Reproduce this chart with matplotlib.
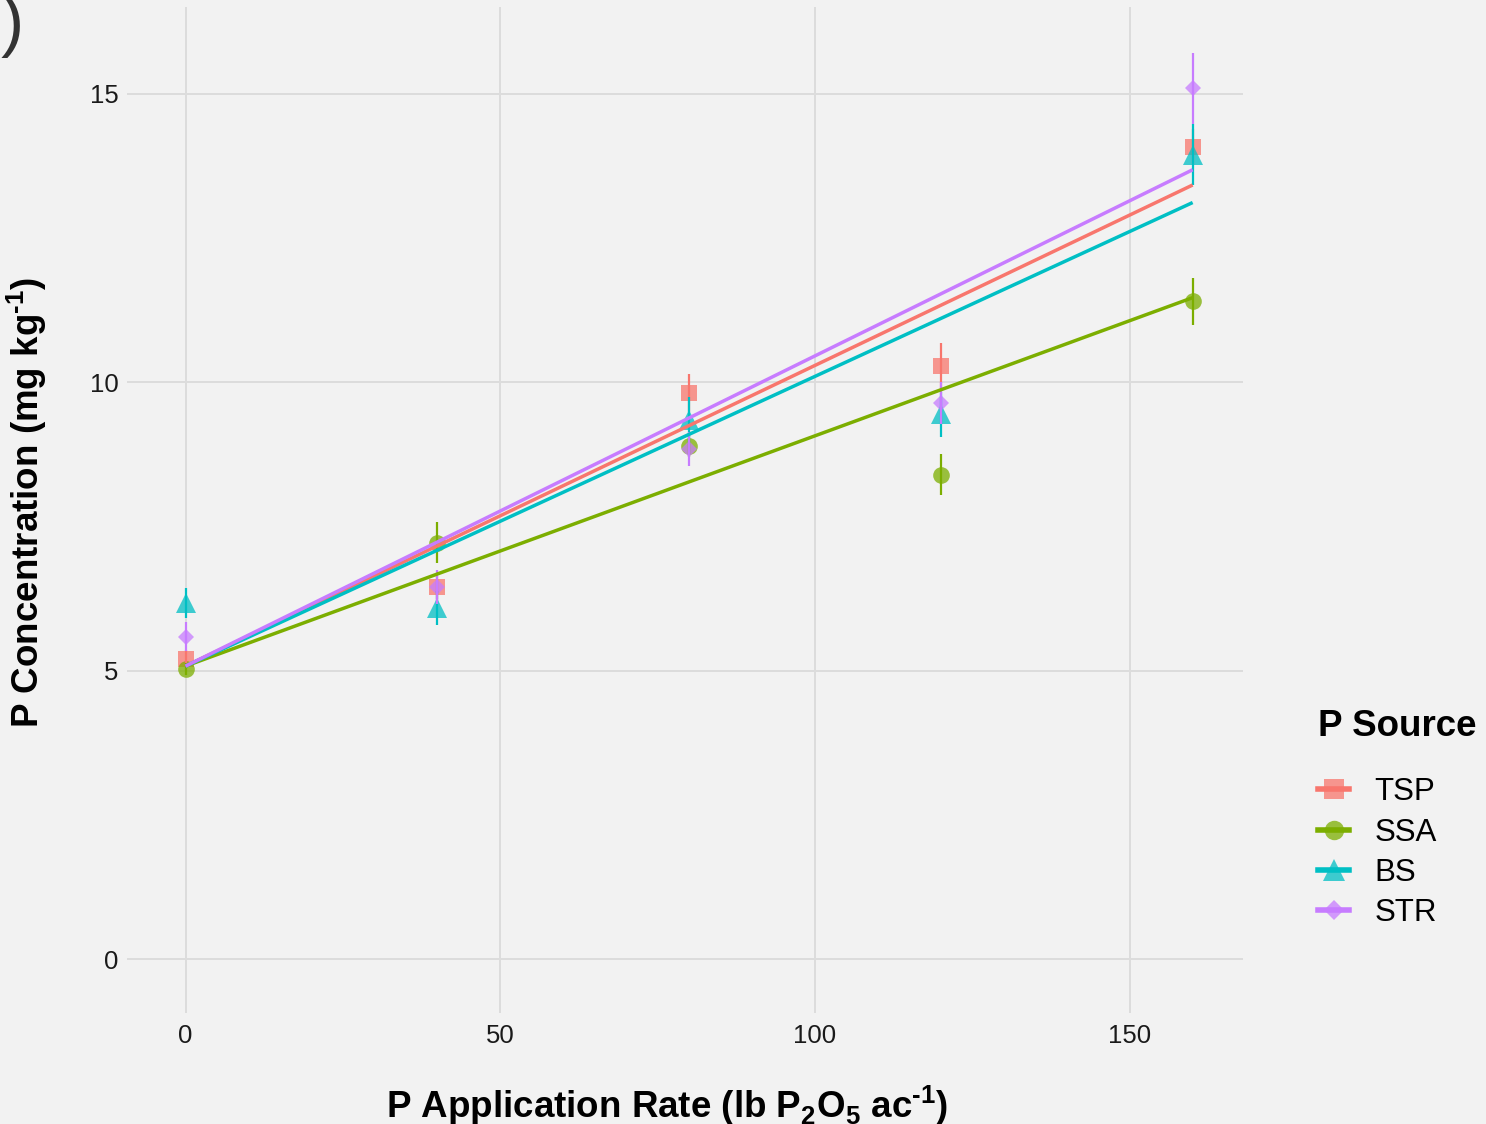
import numpy as np
import matplotlib
matplotlib.use('Agg')
from matplotlib import pyplot as plt
from matplotlib.lines import Line2D

plt.rcParams['font.family'] = ['Liberation Sans', 'DejaVu Sans']
plt.rcParams['mathtext.fontset'] = 'custom'
plt.rcParams['mathtext.bf'] = 'Liberation Sans:bold'
plt.rcParams['mathtext.rm'] = 'Liberation Sans'

# P application rate (lb P2O5 / ac)
rates = [0, 40, 80, 120, 160]
sources = ['TSP', 'SSA', 'BS', 'STR']

# mean soil P (mg/kg) and standard errors
tsp_mean = [5.21, 6.45, 9.81, 10.28, 14.08]
tsp_se = [0.15, 0.20, 0.33, 0.39, 0.30]
ssa_mean = [5.03, 7.22, 8.90, 8.40, 11.40]
ssa_se = [0.10, 0.36, 0.20, 0.35, 0.41]
bs_mean = [6.18, 6.09, 9.35, 9.44, 13.94]
bs_se = [0.26, 0.30, 0.40, 0.39, 0.53]
str_mean = [5.59, 6.45, 8.84, 9.64, 15.09]
str_se = [0.25, 0.30, 0.29, 0.37, 0.62]

# fitted lines: common intercept, slope per source
intercept = 5.08
slopes = [0.0521, 0.0399, 0.0502, 0.05375]

means = [tsp_mean, ssa_mean, bs_mean, str_mean]
ses = [tsp_se, ssa_se, bs_se, str_se]
colors = ['#F8766D', '#7CAE00', '#00BFC4', '#C77CFF']
markers = ['s', 'o', '^', 'D']
msizes = [12, 12, 14, 8.5]

bg = '#F2F2F2'
fig = plt.figure(figsize=(14.86, 11.24), dpi=100, facecolor=bg)
ax = fig.add_axes([127/1486, 1 - 1013/1124, (1243-127)/1486, (1013-7)/1124])
ax.set_facecolor(bg)

x = np.array(rates)
for m, s, c, mk, ms in zip(means, ses, colors, markers, msizes):
    ax.plot(x, m, linestyle='none', marker=mk, ms=ms, color=c, alpha=0.75,
            markeredgewidth=0, zorder=3)
for m, s, c in zip(means, ses, colors):
    ax.errorbar(x, m, yerr=s, fmt='none', ecolor=c, elinewidth=1.6,
                capsize=0, zorder=4)
xf = np.array([0, 160])
for b, c in zip(slopes, colors):
    ax.plot(xf, intercept + b*xf, color=c, lw=2.5, zorder=5,
            solid_capstyle='butt')

ax.set_xlim(-9.3, 168)
ax.set_ylim(-0.93, 16.5)
ax.set_xticks([0, 50, 100, 150])
ax.set_yticks([0, 5, 10, 15])
ax.grid(True, color='#DCDCDC', lw=1.4, zorder=0)
ax.set_axisbelow(True)
for sp in ax.spines.values():
    sp.set_visible(False)
ax.tick_params(length=0, labelsize=18.5, labelcolor='#1A1A1A')
ax.tick_params(axis='x', pad=8)
ax.tick_params(axis='y', pad=6)

fig.text(667/1486, (1124-1118)/1124,
         'P Application Rate (lb P$_{\\mathbf{2}}$O$_{\\mathbf{5}}$ ac$^{\\mathbf{\u20101}}$)',
         fontsize=26.5, fontweight='bold', ha='center', va='baseline')
fig.text(27/1486, 1 - 502/1124,
         'P Concentration (mg kg$^{\\mathbf{\u20101}}$)',
         fontsize=26.5, fontweight='bold', ha='center', va='center', rotation=90)

# cropped panel tag
fig.text(1/1486, 1 - 44/1124, ')', fontsize=50, color='#333333',
         ha='left', va='baseline')

handles = [Line2D([0], [0], color=c, lw=4, marker=mk, ms=ms + 2,
                  markerfacecolor=matplotlib.colors.to_rgba(c, 0.75),
                  markeredgewidth=0)
           for c, mk, ms in zip(colors, markers, msizes)]
leg = fig.legend(handles, sources, loc='upper left',
                 bbox_to_anchor=(1318/1486, 1 - 709/1124),
                 frameon=False, fontsize=22.5, title='P Source',
                 title_fontproperties={'weight': 'bold', 'size': 26.5},
                 alignment='left', handlelength=1.0, handletextpad=0.8,
                 labelspacing=0.33, borderpad=0, borderaxespad=0)
leg._legend_box.sep = 24

fig.savefig('out.png', dpi=100, facecolor=bg)
